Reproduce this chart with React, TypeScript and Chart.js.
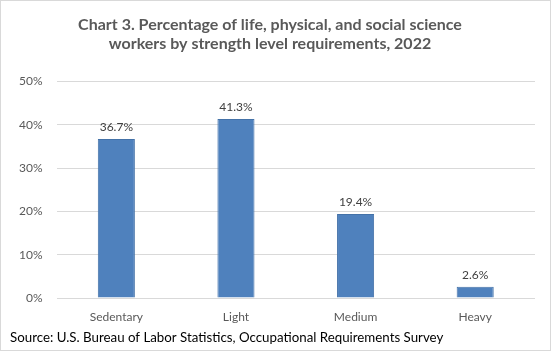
import React, { useEffect, useRef } from "react";
import { Chart, registerables } from "chart.js";

Chart.register(...registerables);

const categories = ["Sedentary", "Light", "Medium", "Heavy"];
const values = [36.7, 41.3, 19.4, 2.6];
const valueLabels = ["36.7%", "41.3%", "19.4%", "2.6%"];
const titleLines = [
  "Chart 3. Percentage of life, physical, and social science",
  "workers by strength level requirements, 2022",
];
const sourceText = "Source: U.S. Bureau of Labor Statistics, Occupational Requirements Survey";

const FONT = "Lato, 'Open Sans', sans-serif";

const framePlugin = {
  id: "frame",
  beforeDraw(chart: any) {
    const { ctx, width, height } = chart;
    ctx.save();
    ctx.fillStyle = "#ffffff";
    ctx.fillRect(0, 0, width, height);
    ctx.strokeStyle = "#d9d9d9";
    ctx.lineWidth = 1;
    ctx.strokeRect(0.5, 0.5, width - 1, height - 1);
    ctx.restore();
  },
  afterDraw(chart: any) {
    const { ctx, height } = chart;
    ctx.save();
    ctx.font = `13.3px ${FONT}`;
    ctx.fillStyle = "#000000";
    ctx.textAlign = "left";
    ctx.textBaseline = "alphabetic";
    ctx.fillText(sourceText, 10, height - 9);
    ctx.restore();
  },
};

const labelPlugin = {
  id: "valueLabels",
  afterDatasetsDraw(chart: any) {
    const { ctx } = chart;
    const meta = chart.getDatasetMeta(0);
    ctx.save();
    ctx.font = `12px ${FONT}`;
    ctx.fillStyle = "#404040";
    ctx.textAlign = "center";
    ctx.textBaseline = "bottom";
    meta.data.forEach((bar: any, i: number) => {
      ctx.fillText(valueLabels[i], bar.x, bar.y - 6);
    });
    ctx.restore();
  },
};

export default function App() {
  const ref = useRef<HTMLCanvasElement | null>(null);
  useEffect(() => {
    document.body.style.margin = "0";
    const chart = new Chart(ref.current as HTMLCanvasElement, {
      type: "bar",
      data: {
        labels: categories,
        datasets: [
          {
            data: values,
            backgroundColor: "#4f81bd",
            borderColor: "#4472a8",
            borderWidth: 1,
            categoryPercentage: 1,
            barPercentage: 0.31,
          },
        ],
      },
      options: {
        animation: false,
        responsive: false,
        maintainAspectRatio: false,
        layout: { padding: { left: 5, right: 16, top: 0, bottom: 22.6 } },
        plugins: {
          legend: { display: false },
          tooltip: { enabled: false },
          title: {
            display: true,
            text: titleLines,
            color: "#595959",
            font: { family: FONT, size: 16, weight: "bold" },
            lineHeight: 1.3,
            padding: { top: 15, bottom: 28 },
          },
        },
        scales: {
          x: {
            grid: { display: false },
            border: { display: false },
            ticks: { color: "#595959", font: { family: FONT, size: 12 }, padding: 4 },
          },
          y: {
            min: 0,
            max: 50,
            grid: { color: "#d9d9d9", drawTicks: false },
            border: { display: false },
            ticks: {
              stepSize: 10,
              padding: 14,
              color: "#595959",
              font: { family: FONT, size: 12 },
              callback: (v: any) => `${v}%`,
            },
          },
        },
      },
      plugins: [framePlugin, labelPlugin],
    });
    return () => chart.destroy();
  }, []);
  return (
    <div style={{ position: "absolute", left: 0, top: 0, width: 551, height: 351 }}>
      <canvas ref={ref} width={551} height={351} style={{ width: 551, height: 351 }} />
    </div>
  );
}
